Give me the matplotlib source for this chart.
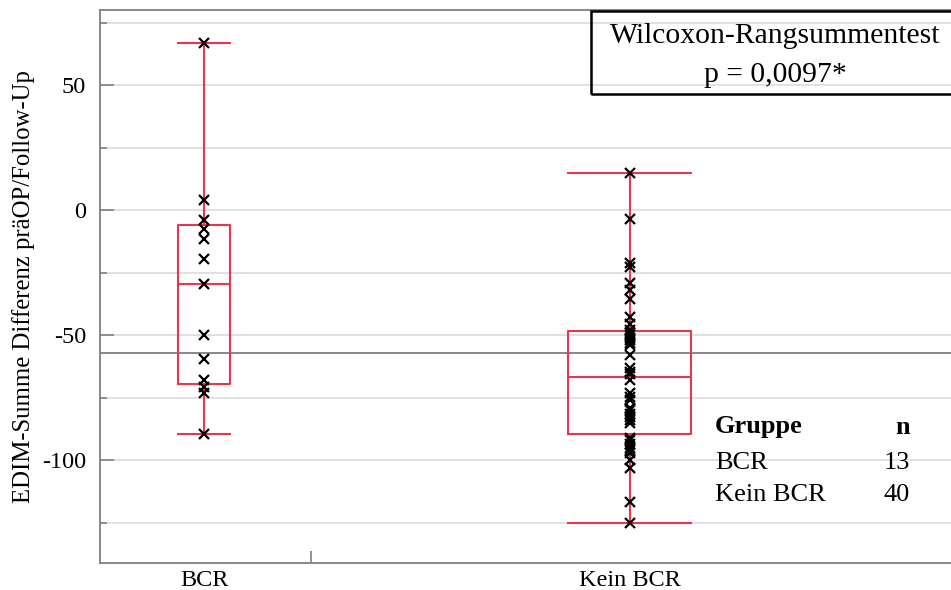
import numpy as np
import matplotlib
matplotlib.use("Agg")
import matplotlib.pyplot as plt
from matplotlib import cbook
from matplotlib.patches import Rectangle

# ---- data ----
categories = ["BCR", "Kein BCR"]
bcr_values = [67, 4, -4, -7.5, -11.5, -19.5, -29.5, -50, -59.5, -68, -70.5, -73, -89.5]
kein_bcr_values = [15, -3.5, -21, -22.5, -29, -32, -35.5, -42.5, -45.5,
                   -48, -49, -50, -51, -52, -53, -54, -58,
                   -63, -64.5, -65.5, -68, -73, -74.5, -76,
                   -79, -80, -81.5, -82.5, -84, -85,
                   -91, -92, -93.5, -95, -96, -97, -100, -103, -116.5, -125]
box_widths = [0.122, 0.289]
test_title = "Wilcoxon-Rangsummentest"
test_p = "p = 0,0097*"
ylabel = "EDIM-Summe Differenz präOP/Follow-Up"
yticks_major = [-100, -50, 0, 50]
yticks_minor = [-125, -75, -25, 25, 75]
legend_header = ("Gruppe", "n")

groups = [bcr_values, kein_bcr_values]
counts = [len(g) for g in groups]
overall_mean = np.mean(np.concatenate([np.array(g, float) for g in groups]))

plt.rcParams['font.family'] = ['Liberation Serif', 'DejaVu Serif']
red = '#e8374c'
gray = '#7f7f7f'

fig = plt.figure(figsize=(9.51, 5.90), dpi=100)
W, H = 951, 590
ax_l, ax_r, ax_t, ax_b = 100, 951, 10, 562.7
ax = fig.add_axes([ax_l / W, 1 - ax_b / H, (ax_r - ax_l) / W, (ax_b - ax_t) / H])

positions = [1, 2]
stats = cbook.boxplot_stats([np.array(g, float) for g in groups], whis=(0, 100))
for s, g in zip(stats, groups):
    q1, med, q3 = np.percentile(np.array(g, float), [25, 50, 75], method='weibull')
    s['q1'], s['med'], s['q3'] = q1, med, q3
    s['fliers'] = np.array([])

ax.bxp(stats, positions=positions, widths=box_widths, capwidths=box_widths,
       showfliers=False, manage_ticks=False,
       boxprops=dict(color=red, linewidth=1.5),
       medianprops=dict(color=red, linewidth=1.5),
       whiskerprops=dict(color=red, linewidth=1.5),
       capprops=dict(color=red, linewidth=1.5), zorder=3)

for p, g in zip(positions, groups):
    ax.plot([p] * len(g), g, linestyle='none', marker='x', color='black',
            markersize=7.5, markeredgewidth=1.6, zorder=4)

ax.axhline(overall_mean, color=gray, linewidth=1.3, zorder=2)

ax.set_xlim(0.755, 2.755)
ax.set_ylim(-140.9, 80.2)
ax.set_yticks(yticks_major)
ax.set_yticklabels([str(v) for v in yticks_major])
ax.set_yticks(yticks_minor, minor=True)
ax.grid(True, axis='y', which='both', color='#dedede', linewidth=1.3, zorder=0)
ax.set_axisbelow(True)
ax.tick_params(axis='y', which='major', direction='in', length=10, width=1.2,
               color=gray, labelsize=17.5, pad=10)
ax.tick_params(axis='y', which='minor', direction='in', length=5, width=1.2, color=gray)

ax.set_xticks(positions)
ax.set_xticklabels(categories)
ax.set_xticks([1.25], minor=True)
ax.tick_params(axis='x', which='major', length=0, labelsize=17.5, pad=5)
ax.tick_params(axis='x', which='minor', direction='in', length=9, width=1.2, color=gray)

for side in ['left', 'bottom', 'top']:
    ax.spines[side].set_color(gray)
    ax.spines[side].set_linewidth(1.3)
ax.spines['right'].set_visible(False)

ax.set_ylabel(ylabel, fontsize=17.8)
ax.yaxis.set_label_coords((35 - ax_l) / (ax_r - ax_l), 0.5)

# test box (figure pixel coordinates converted to fractions)
rect = Rectangle((591 / W, 1 - 94 / H), 0.5, (94 - 11) / H, transform=fig.transFigure,
                 fill=False, edgecolor='black', linewidth=1.8, zorder=10)
fig.patches.append(rect)
fig.text(775 / W, 1 - 36 / H, test_title, ha='center', va='center', fontsize=21.3)
fig.text(775 / W, 1 - 75 / H, test_p, ha='center', va='center', fontsize=21.3)

# group table
fig.text(715 / W, 1 - 427 / H, legend_header[0], ha='left', va='center',
         fontsize=19, fontweight='bold')
fig.text(910 / W, 1 - 427 / H, legend_header[1], ha='right', va='center',
         fontsize=19, fontweight='bold')
for i, (c, n) in enumerate(zip(categories, counts)):
    y = [463, 495][i]
    fig.text(715 / W, 1 - y / H, c, ha='left', va='center', fontsize=19)
    fig.text(910 / W, 1 - y / H, str(n), ha='right', va='center', fontsize=19)

fig.savefig("out.png", dpi=100)
